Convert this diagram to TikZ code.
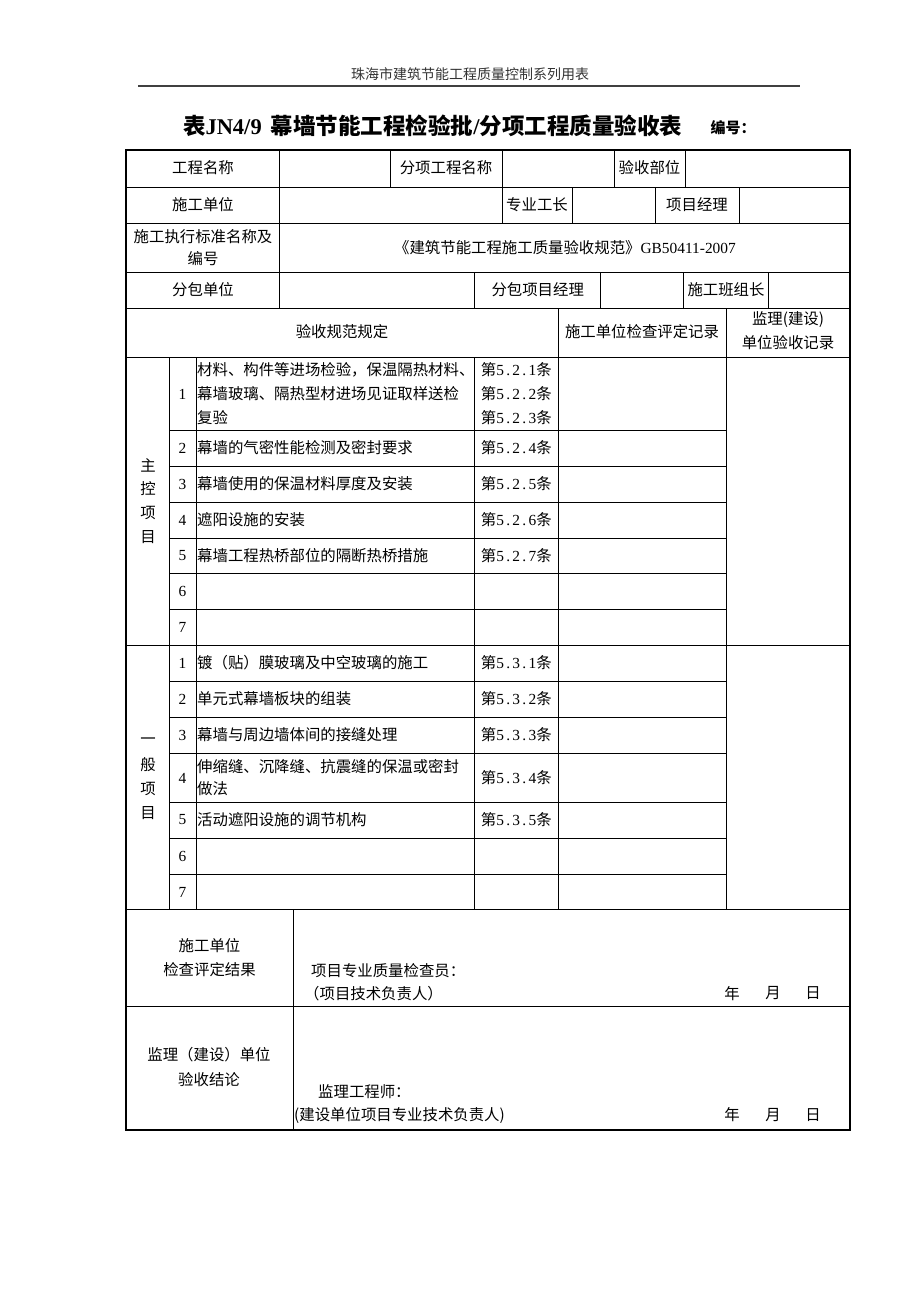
\documentclass[tikz,border=0pt]{standalone}
\usepackage{fontspec}
\setmainfont{Noto Sans CJK SC}
\newfontfamily\lat{Liberation Serif}
\newfontfamily\clf[LetterSpace=15]{Liberation Serif}
\newcommand\cls[1]{第{\clf #1}条}
\begin{document}
\begin{tikzpicture}[x=1pt,y=-1pt,
  ln/.style={line width=0.9pt,black},
  bd/.style={line width=2.2pt,black},
  tx/.style={inner sep=0pt,font=\fontsize{15.4}{18}\selectfont},
  lt/.style={tx,anchor=west},
  num/.style={tx,font=\fontsize{15.4}{18}\selectfont\lat}]
\useasboundingbox (0,0) rectangle (920,1302);
\fill[white] (0,0) rectangle (920,1302);
% page header
\node[inner sep=0pt,font=\fontsize{14}{16}\selectfont,text=black!80] (hdr) at (470,74) {珠海市建筑节能工程质量控制系列用表};
\draw[line width=1.6pt,black!75] (138,86) -- (800,86);
\node[inner sep=0pt,font=\fontsize{22.5}{26}\selectfont\bfseries] (title) at (432.5,126) {表{\lat\bfseries JN4/9}\hspace{9pt}幕墙节能工程检验批{\lat\bfseries /}分项工程质量验收表};
\node[inner sep=0pt,font=\fontsize{15}{18}\selectfont\bfseries] (bh) at (733,128) {编号：};
% full-width horizontal lines
\foreach \y in {187,223,272,308,357,645,909.6,1006}
  \draw[ln] (126,\y) -- (850,\y);
% partial horizontal lines
\foreach \y in {430,466,502,538,573,609,681,717,753,802,838,874}
  \draw[ln] (169,\y) -- (726,\y);
% vertical lines
\foreach \x in {279.5,390.5,502,614,685} \draw[ln] (\x,150) -- (\x,187);
\foreach \x in {279.5,502,572,655,739} \draw[ln] (\x,187) -- (\x,223);
\draw[ln] (279.5,223) -- (279.5,272);
\foreach \x in {279.5,474.6,600.7,683.8,768} \draw[ln] (\x,272) -- (\x,308);
\foreach \x in {558,726} \draw[ln] (\x,308) -- (\x,357);
\foreach \x in {169,196,474.6,558,726} \draw[ln] (\x,357) -- (\x,909.6);
\draw[ln] (293,909.6) -- (293,1130);
% outer border
\draw[bd] (126,150) rectangle (850,1130);
% row 1
\node[tx] (a1) at (203,168) {工程名称};
\node[tx] (a2) at (446,168) {分项工程名称};
\node[tx] (a3) at (649.5,168) {验收部位};
% row 2
\node[tx] (b1) at (203,205) {施工单位};
\node[tx] (b2) at (537,205) {专业工长};
\node[tx] (b3) at (697,205) {项目经理};
% row 3
\node[tx] (c1) at (203,237) {施工执行标准名称及};
\node[tx] (c2) at (203,259) {编号};
\node[tx] (c3) at (565,248) {《建筑节能工程施工质量验收规范》{\lat GB50411-2007}};
% row 4
\node[tx] (d1) at (203,290) {分包单位};
\node[tx] (d2) at (537.7,290) {分包项目经理};
\node[tx] (d3) at (726,290) {施工班组长};
% row 5
\node[tx] (e1) at (342,332) {验收规范规定};
\node[tx] (e2) at (642,332) {施工单位检查评定记录};
\node[tx] (e3) at (788,320) {监理(建设)};
\node[tx] (e4) at (788,343) {单位验收记录};
% main control items
\node[tx] (m1) at (148,465) {主};
\node[tx] (m2) at (148,489) {控};
\node[tx] (m3) at (148,513) {项};
\node[tx] (m4) at (148,537) {目};
\node[num] (mn1) at (182.5,394) {1};
\node[num] (mn2) at (182.5,448) {2};
\node[num] (mn3) at (182.5,484) {3};
\node[num] (mn4) at (182.5,520) {4};
\node[num] (mn5) at (182.5,555.5) {5};
\node[num] (mn6) at (182.5,591) {6};
\node[num] (mn7) at (182.5,627) {7};
\node[lt] (mt1a) at (197,370) {材料、构件等进场检验，保温隔热材料、};
\node[lt] (mt1b) at (197,394) {幕墙玻璃、隔热型材进场见证取样送检};
\node[lt] (mt1c) at (197,417.5) {复验};
\node[lt] (mt2) at (197,448) {幕墙的气密性能检测及密封要求};
\node[lt] (mt3) at (197,484) {幕墙使用的保温材料厚度及安装};
\node[lt] (mt4) at (197,520) {遮阳设施的安装};
\node[lt] (mt5) at (197,555.5) {幕墙工程热桥部位的隔断热桥措施};
\node[tx] (mc1) at (516.3,370) {\cls{5.2.1}};
\node[tx] (mc2) at (516.3,394) {\cls{5.2.2}};
\node[tx] (mc3) at (516.3,417.5) {\cls{5.2.3}};
\node[tx] (mc4) at (516.3,448) {\cls{5.2.4}};
\node[tx] (mc5) at (516.3,484) {\cls{5.2.5}};
\node[tx] (mc6) at (516.3,520) {\cls{5.2.6}};
\node[tx] (mc7) at (516.3,555.5) {\cls{5.2.7}};
% general items
\node[tx] (g1) at (148,741) {一};
\node[tx] (g2) at (148,765) {般};
\node[tx] (g3) at (148,789) {项};
\node[tx] (g4) at (148,813) {目};
\node[num] (gn1) at (182.5,663) {1};
\node[num] (gn2) at (182.5,699) {2};
\node[num] (gn3) at (182.5,735) {3};
\node[num] (gn4) at (182.5,778) {4};
\node[num] (gn5) at (182.5,820) {5};
\node[num] (gn6) at (182.5,856) {6};
\node[num] (gn7) at (182.5,892) {7};
\node[lt] (gt1) at (197,663) {镀（贴）膜玻璃及中空玻璃的施工};
\node[lt] (gt2) at (197,699) {单元式幕墙板块的组装};
\node[lt] (gt3) at (197,735) {幕墙与周边墙体间的接缝处理};
\node[lt] (gt4a) at (197,767) {伸缩缝、沉降缝、抗震缝的保温或密封};
\node[lt] (gt4b) at (197,789) {做法};
\node[lt] (gt5) at (197,820) {活动遮阳设施的调节机构};
\node[tx] (gc1) at (516.3,663) {\cls{5.3.1}};
\node[tx] (gc2) at (516.3,699) {\cls{5.3.2}};
\node[tx] (gc3) at (516.3,735) {\cls{5.3.3}};
\node[tx] (gc4) at (516.3,778) {\cls{5.3.4}};
\node[tx] (gc5) at (516.3,820) {\cls{5.3.5}};
% bottom blocks
\node[tx] (s1) at (209.5,946) {施工单位};
\node[tx] (s2) at (209.5,970) {检查评定结果};
\node[lt] (s3) at (311,971) {项目专业质量检查员：};
\node[lt] (s4) at (304,993.5) {（项目技术负责人）};
\node[tx] (s5) at (732,993.5) {年};
\node[tx] (s6) at (773,993.5) {月};
\node[tx] (s7) at (813,993.5) {日};
\node[tx] (j1) at (209,1055) {监理（建设）单位};
\node[tx] (j2) at (209,1080) {验收结论};
\node[lt] (j3) at (318,1092) {监理工程师：};
\node[lt] (j4) at (294,1115) {(建设单位项目专业技术负责人)};
\node[tx] (j5) at (732,1115) {年};
\node[tx] (j6) at (773,1115) {月};
\node[tx] (j7) at (813,1115) {日};
\end{tikzpicture}
\end{document}
